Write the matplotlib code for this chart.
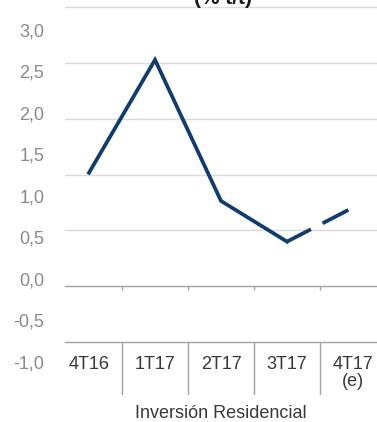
import matplotlib
matplotlib.use("Agg")
import matplotlib.pyplot as plt
from matplotlib.ticker import FuncFormatter
import numpy as np

plt.rcParams['font.family'] = ['Liberation Sans', 'DejaVu Sans']
plt.rcParams['axes.unicode_minus'] = False
plt.rcParams['lines.scale_dashes'] = False

# Residential investment, % q/q
quarters = ["4T16", "1T17", "2T17", "3T17", "4T17\n(e)"]
growth = [1.28, 2.64, 0.94, 0.45, 0.86]
y_ticks = [-1.0, -0.5, 0.0, 0.5, 1.0, 1.5, 2.0, 2.5, 3.0]
grid_levels = [-0.5, 0.0, 0.5, 1.0, 1.5, 2.0, 2.5]

line_color = "#103c72"
label_gray = "#8e8985"
text_dark = "#383838"

fig = plt.figure(figsize=(3.77, 4.22), dpi=100)
ax = fig.add_axes([65 / 377, 1 - 395 / 422, 312 / 377, 395 / 422])

# background grid lives on a twin scale so it sits behind the line
ax2 = ax.twinx()
ax2.set_zorder(0)
ax.set_zorder(1)
ax.patch.set_visible(False)

x = np.arange(len(quarters))
ax.set_xlim(-0.364, 4.364)
ax.set_ylim(-1.398, 3.361)
ax2.set_ylim(-0.978, 2.567)

for g in grid_levels:
    c = "#a3a3a3" if g in (0.0, -0.5) else "#dadada"
    ax2.axhline(g, color=c, lw=1.0)

# category separators and small ticks on the zero line
seps = x[:-1] + 0.5
ax2.vlines(seps, -0.978, -0.5, color="#a3a3a3", lw=1.0)
ax2.vlines(seps, -0.035, 0.0, color="#a3a3a3", lw=1.0)
ax2.set_yticks([])
ax2.set_xticks([])

ax.plot(x[:4], growth[:4], color=line_color, lw=2.7, solid_joinstyle='miter')
ax.plot(x[3:], growth[3:], color=line_color, lw=2.7,
        linestyle=(0, (19.4, 9.4, 20.9, 8.0)), dash_capstyle='butt')

ax.set_yticks(y_ticks)
ax.yaxis.set_major_formatter(FuncFormatter(lambda v, p: f"{v:.1f}".replace(".", ",")))
ax.tick_params(axis='y', length=0, pad=15, labelsize=13, labelcolor=label_gray)
ax.set_xticks([])

for i, q in enumerate(quarters):
    ax.text(i, -0.925, q, ha='center', va='top', fontsize=13, color=text_dark,
            linespacing=1.0)

ax.text(2, -1.62, "Inversión Residencial", ha='center', va='center',
        fontsize=13, color=text_dark)

for s in ax.spines.values():
    s.set_visible(False)
for s in ax2.spines.values():
    s.set_visible(False)

fig.text(223 / 377, 1 - 4 / 422, "(% t/t)", ha='center', va='baseline',
         fontsize=15, fontweight='bold', color="#1a1a1a")

fig.savefig("out.png", dpi=100)
